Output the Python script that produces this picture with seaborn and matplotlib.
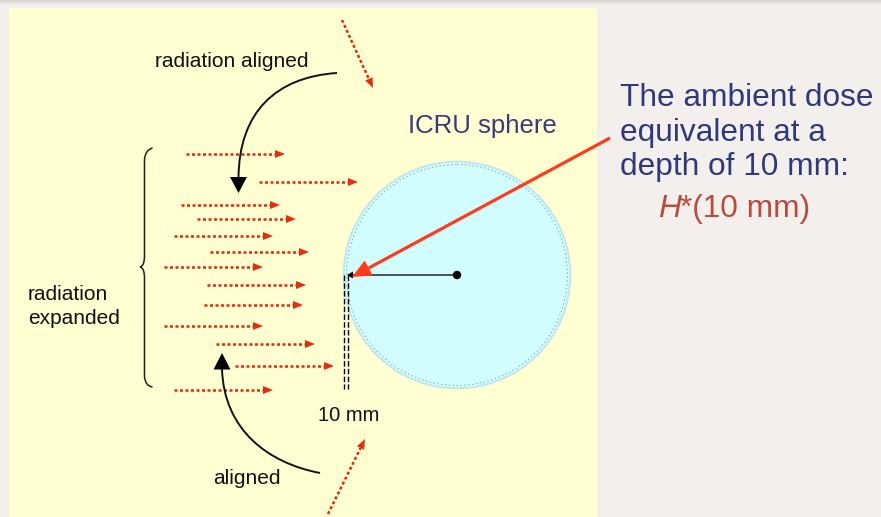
import numpy as np
import pandas as pd
import matplotlib
matplotlib.use("Agg")
import matplotlib.pyplot as plt
import seaborn as sns
from matplotlib.patches import Circle, Rectangle, Polygon, PathPatch
from matplotlib.path import Path

# ---------------- data (pixel coordinates of the diagram) ----------------
beam_y = [154, 182, 205, 219, 236, 252, 267, 285, 305, 326, 344, 366, 390]
beam_x0 = [186, 259, 181, 197, 174, 210, 164, 207, 204, 164, 216, 235, 174]
beam_x1 = [285, 358, 280, 296, 273, 309, 263, 306, 303, 263, 315, 334, 273]

diag_start = [(342, 20), (328, 514)]
diag_tip = [(373, 88), (365, 439)]

sphere_center = (457, 275)
sphere_radius = 113.3
depth_mm = 10

label_small = ["radiation aligned", "radiation", "expanded", "aligned", "10 mm"]
title_lines = ["The ambient dose", "equivalent at a", "depth of 10 mm:"]

# ---------------- style ----------------
sns.set_theme(style="white")
plt.rcParams['font.family'] = ['Liberation Sans', 'DejaVu Sans']

W, H = 881, 517
fig = plt.figure(figsize=(W / 100, H / 100), dpi=100)
fig.patch.set_facecolor("#f3efed")
ax = fig.add_axes([0, 0, 1, 1])
ax.set_facecolor("#f3efed")

RED = "#e4280c"
BLACK = "#111111"
NAVY = "#31387a"


def tri(tip, tail, length, half):
    tip = np.array(tip, float)
    tail = np.array(tail, float)
    u = tip - tail
    u /= np.linalg.norm(u)
    n = np.array([-u[1], u[0]])
    base = tip - u * length
    return [tip, base + n * half, base - n * half], base


# top shadow
for i, c in enumerate(["#d6d2d0", "#dedad8", "#e6e2e0", "#ece8e6", "#f0ecea"]):
    ax.add_patch(Rectangle((0, i), W, 1, fc=c, ec="none", zorder=0))

# yellow panel
ax.add_patch(Rectangle((9, 8), 588, 520, fc="#ffffd2", ec="none", zorder=0.5))

# sphere
cx, cy = sphere_center
ax.add_patch(Circle((cx, cy), sphere_radius, fc="#d2fdff", ec="#bde6ee", lw=1.4, zorder=1))
ax.add_patch(Circle((cx, cy), sphere_radius - 2.8, fc="none", ec="#8fa5ad", lw=0.7,
                    ls=(0, (1.5, 2.5)), zorder=1.1))

# horizontal dotted beams via seaborn
rows = []
for k, (y, x0, x1) in enumerate(zip(beam_y, beam_x0, beam_x1)):
    rows.append({"x": x0, "y": y, "beam": k})
    rows.append({"x": x1 - 9, "y": y, "beam": k})
df = pd.DataFrame(rows)
sns.lineplot(data=df, x="x", y="y", units="beam", estimator=None, sort=False,
             color=RED, lw=1.8, linestyle=(0, (1.2, 1.0)), ax=ax, zorder=2, legend=False)
for y, x0, x1 in zip(beam_y, beam_x0, beam_x1):
    pts, _ = tri((x1, y), (x0, y), 10, 4)
    ax.add_patch(Polygon(pts, closed=True, fc="#e03010", ec="none", zorder=2.1))

# diagonal dotted beams
for s, t in zip(diag_start, diag_tip):
    pts, base = tri(t, s, 10, 4)
    ax.plot([s[0], base[0]], [s[1], base[1]], color=RED, lw=1.8,
            ls=(0, (1.2, 1.0)), zorder=2)
    ax.add_patch(Polygon(pts, closed=True, fc="#e03010", ec="none", zorder=2.1))

# curly brace
verts = [(152.5, 148), (145, 150), (144.5, 160),
         (144.5, 256),
         (144.5, 266), (140, 267),
         (144.5, 268), (144.5, 278),
         (144.5, 376),
         (145, 386), (152.5, 387)]
codes = [Path.MOVETO, Path.CURVE3, Path.CURVE3, Path.LINETO,
         Path.CURVE3, Path.CURVE3, Path.CURVE3, Path.CURVE3,
         Path.LINETO, Path.CURVE3, Path.CURVE3]
ax.add_patch(PathPatch(Path(verts, codes), fc="none", ec="#222222", lw=1.1, zorder=3))

# black curved arrows
top_curve = Path([(337, 73), (276, 77), (239, 112), (238.5, 178)],
                 [Path.MOVETO, Path.CURVE4, Path.CURVE4, Path.CURVE4])
ax.add_patch(PathPatch(top_curve, fc="none", ec=BLACK, lw=1.4, zorder=3))
ax.add_patch(Polygon([(238.5, 193), (230, 177), (247, 177)], closed=True,
                     fc="black", ec="none", zorder=3.1))
bot_curve = Path([(320, 473), (268, 463), (224, 430), (222, 369)],
                 [Path.MOVETO, Path.CURVE4, Path.CURVE4, Path.CURVE4])
ax.add_patch(PathPatch(bot_curve, fc="none", ec=BLACK, lw=1.4, zorder=3))
ax.add_patch(Polygon([(222, 353), (213.5, 369.5), (230.5, 369.5)], closed=True,
                     fc="black", ec="none", zorder=3.1))

# radius line with small arrowhead
ax.plot([cx, 352], [cy, cy], color="#3c4446", lw=1.3, zorder=4)
ax.add_patch(Polygon([(347, cy), (353, cy - 3.5), (353, cy + 3.5)], closed=True,
                     fc="black", ec="none", zorder=4.1))
ax.add_patch(Circle((cx, cy), 4.2, fc="black", ec="none", zorder=4.2))

# depth marker dashed lines
for xx in (343.5, 347.5):
    ax.plot([xx, xx], [cy, 389], color="black", lw=1.0, ls=(0, (4, 1.6)), zorder=4)

# big red arrow
pts, base = tri((352, 277), (610, 138), 19, 8.5)
ax.plot([610, base[0]], [138, base[1]], color="#ff3b1c", lw=2.3,
        solid_capstyle="butt", zorder=5)
ax.add_patch(Polygon(pts, closed=True, fc="#ff3b1c", ec="none", zorder=5.1))

# texts
ts = 15
ax.text(155, 67, label_small[0], fontsize=ts, color=BLACK, ha="left", va="baseline", zorder=6)
ax.text(28, 299.5, label_small[1], fontsize=ts, color=BLACK, ha="left", va="baseline", zorder=6)
ax.text(28, 323.5, label_small[2], fontsize=ts, color=BLACK, ha="left", va="baseline", zorder=6)
ax.text(213, 483.5, label_small[3], fontsize=ts, color=BLACK, ha="left", va="baseline", zorder=6)
ax.text(318, 421, label_small[4], fontsize=14.5, color=BLACK, ha="left", va="baseline", zorder=6)
ax.text(408, 133.5, "ICRU sphere", fontsize=18.5, color="#3a3a7c", ha="left",
        va="baseline", zorder=6)

for line, yb in zip(title_lines, [106.5, 140.5, 174.5]):
    ax.text(620, yb, line, fontsize=22.8, color=NAVY, ha="left", va="baseline", zorder=6)
ax.text(658, 217, "H", fontsize=22.8, color="#b94a3c", style="italic", ha="left",
        va="baseline", zorder=6)
ax.text(680, 217, f"*({depth_mm} mm)", fontsize=22.8, color="#b94a3c", ha="left",
        va="baseline", zorder=6)

ax.set_xlim(0, W)
ax.set_ylim(H, 0)
ax.axis("off")
fig.savefig("out.png", dpi=100, facecolor=fig.get_facecolor())
